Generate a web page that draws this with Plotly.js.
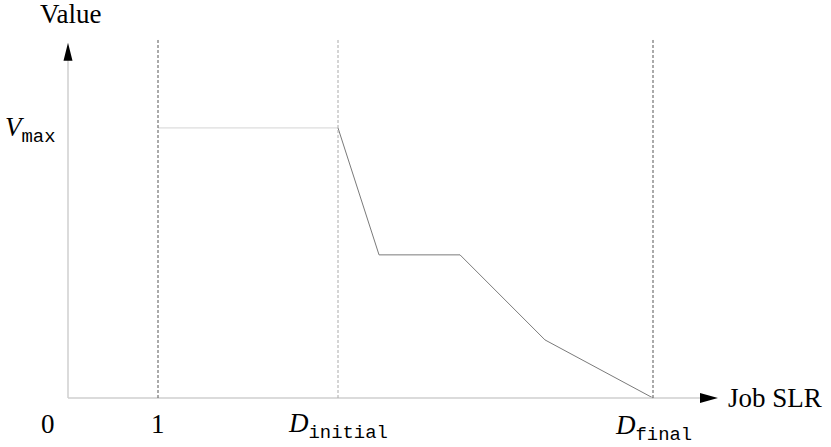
<!DOCTYPE html>
<html>
<head>
<meta charset="utf-8">
<script src="https://cdn.plot.ly/plotly-3.0.1.min.js"></script>
<style>html,body{margin:0;padding:0;background:#fff;}</style>
</head>
<body>
<div id="chart" style="width:831px;height:447px;"></div>
<script>
// Value curve (x in units where 1 = "1", y in units of Vmax)
const curveX = [1, 3, 3.456, 4.356, 5.3, 6.5];
const curveY = [1, 1, 0.53, 0.53, 0.215, 0];
// Marked x positions and their labels
const markX = [1, 3, 6.5];
const markLabels = ['1', '<i>D</i><sub><span style="font-family:\'Liberation Mono\', monospace">initial</span></sub>', '<i>D</i><sub><span style="font-family:\'Liberation Mono\', monospace">final</span></sub>'];
const markColors = ['#555', '#aaa', '#555'];
const originLabel = '0';
const vmaxY = 1;
const vmaxLabel = '<i>V</i><sub><span style="font-family:\'Liberation Mono\', monospace">max</span></sub>';
const xTitle = 'Job SLR';
const yTitle = 'Value';

const serif = '"Liberation Serif", "DejaVu Serif", serif';

const traces = [
  {x: curveX.slice(0, 2), y: curveY.slice(0, 2), mode: 'lines', line: {color: '#d4d4d4', width: 1}, hoverinfo: 'skip'},
  {x: curveX.slice(1), y: curveY.slice(1), mode: 'lines', line: {color: '#7a7a7a', width: 1}, hoverinfo: 'skip'}
];

const shapes = [];
// axis lines
shapes.push({type: 'line', xref: 'x', yref: 'y', x0: 0, x1: 7.1, y0: 0, y1: 0, line: {color: '#cfcfcf', width: 1.5}});
shapes.push({type: 'line', xref: 'x', yref: 'y', x0: 0, x1: 0, y0: 0, y1: 1.26, line: {color: '#cfcfcf', width: 1.5}});
// arrowheads
shapes.push({type: 'path', xref: 'x', yref: 'y', xsizemode: 'pixel', ysizemode: 'pixel', xanchor: 7.222, yanchor: 0,
  path: 'M 0 0 L -18 5 L -18 -5 Z', fillcolor: '#000', line: {width: 0}});
shapes.push({type: 'path', xref: 'x', yref: 'y', xsizemode: 'pixel', ysizemode: 'pixel', xanchor: 0, yanchor: 1.315,
  path: 'M 0 0 L -4.5 -18 L 4.5 -18 Z', fillcolor: '#000', line: {width: 0}});
// dashed verticals
markX.forEach((v, i) => {
  shapes.push({type: 'line', xref: 'x', yref: 'y', x0: v, x1: v, y0: 0, y1: 1.333,
    line: {color: markColors[i], width: 1, dash: '3px,2px'}});
});

const annotations = [];
const fnt = {family: serif, size: 27, color: '#000'};
annotations.push({x: 0, y: 1.37, xref: 'x', yref: 'y', xshift: 2, yshift: 14, text: yTitle, showarrow: false, font: fnt});
annotations.push({x: -0.2, y: vmaxY, xref: 'x', yref: 'y', xshift: -20, yshift: -2, text: vmaxLabel, showarrow: false, font: fnt});
annotations.push({x: -0.2, y: 0, xref: 'x', yref: 'y', xshift: -2, yshift: -26, text: originLabel, showarrow: false, font: fnt});
const labShift = [0, 0, 0];
const labY = [-26, -28, -30];
markX.forEach((v, i) => {
  annotations.push({x: v, y: 0, xref: 'x', yref: 'y', xshift: labShift[i], yshift: labY[i], text: markLabels[i], showarrow: false, font: fnt});
});
annotations.push({x: 7.3, y: 0, xref: 'x', yref: 'y', xanchor: 'left', xshift: 1, text: xTitle, showarrow: false, font: fnt});

const layout = {
  width: 831, height: 447,
  margin: {l: 50, r: 106, t: 28, b: 22},
  paper_bgcolor: '#fff', plot_bgcolor: '#fff',
  showlegend: false,
  font: {family: serif, size: 27, color: '#000'},
  xaxis: {range: [-0.2, 7.3], showgrid: false, zeroline: false, showline: false, showticklabels: false, ticks: '', fixedrange: true},
  yaxis: {range: [-0.1, 1.37], showgrid: false, zeroline: false, showline: false, showticklabels: false, ticks: '', fixedrange: true},
  shapes: shapes,
  annotations: annotations
};

Plotly.newPlot('chart', traces, layout, {displayModeBar: false, staticPlot: true});
</script>
</body>
</html>
